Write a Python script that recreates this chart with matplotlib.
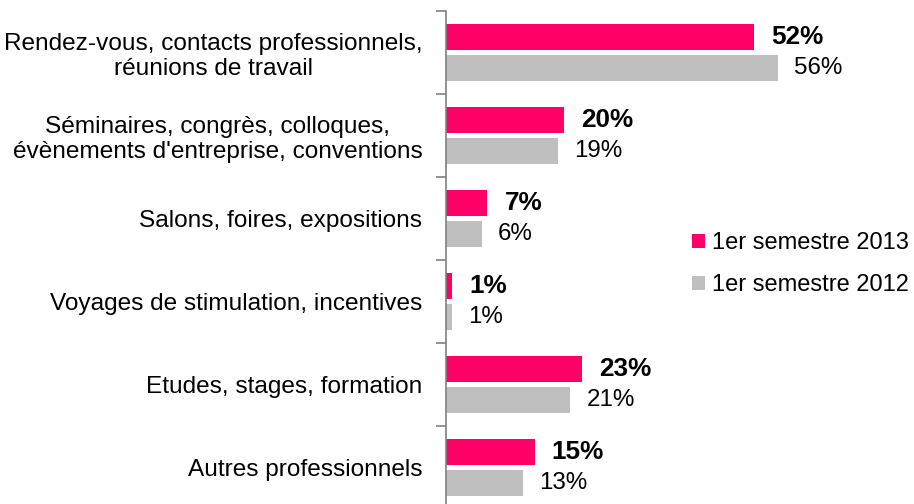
import matplotlib
matplotlib.use('Agg')
from matplotlib import pyplot as plt
import numpy as np

plt.rcParams['font.family'] = ['Liberation Sans', 'DejaVu Sans']

categories = ['Rendez-vous, contacts professionnels,\nréunions de travail',
              'Séminaires, congrès, colloques,\névènements d\'entreprise, conventions',
              'Salons, foires, expositions',
              'Voyages de stimulation, incentives',
              'Etudes, stages, formation',
              'Autres professionnels']
s2013 = [52, 20, 7, 1, 23, 15]
s2012 = [56, 19, 6, 1, 21, 13]
labels_2013 = ['52%', '20%', '7%', '1%', '23%', '15%']
labels_2012 = ['56%', '19%', '6%', '1%', '21%', '13%']

pink = '#FF0066'
grey = '#BFBFBF'

W, H = 914, 504
fig = plt.figure(figsize=(W / 100, H / 100), dpi=100)
# axes: x from 446 px, 5.92 px per percent; y band 11..509 px (6 x 83)
ax = fig.add_axes([446 / W, (H - 509) / H, 78 * 5.92 / W, 498 / H])

y = np.arange(len(categories))
off = 15.5 / 83
h = 26 / 83
ax.barh(y - off, s2013, height=h, color=pink, label='1er semestre 2013')
ax.barh(y + off, s2012, height=h, color=grey, label='1er semestre 2012')

ax.set_xlim(0, 78)
ax.set_ylim(len(categories) - 0.5, -0.5)

for i in range(len(categories)):
    ax.annotate(labels_2013[i], (s2013[i], y[i] - off), xytext=(17, 0),
                textcoords='offset pixels', va='center', ha='left',
                fontsize=18.8, fontweight='bold')
    ax.annotate(labels_2012[i], (s2012[i], y[i] + off), xytext=(16, 0),
                textcoords='offset pixels', va='center', ha='left',
                fontsize=17.4)

ax.set_yticks(y)
ax.set_yticklabels(categories, fontsize=17.6, multialignment='center')
ax.set_yticks(np.arange(-0.5, len(categories), 1), minor=True)
ax.tick_params(axis='y', which='major', length=0, pad=17)
ax.tick_params(axis='y', which='minor', length=7, width=1.2, color='#808080')
ax.set_xticks([])
for s in ['top', 'right', 'bottom']:
    ax.spines[s].set_visible(False)
ax.spines['left'].set_color('#808080')
ax.spines['left'].set_linewidth(1.2)

ax.legend(loc='center left', bbox_to_anchor=(692 / W, 1 - 264 / H),
          bbox_transform=fig.transFigure, frameon=False, fontsize=17,
          borderpad=0, borderaxespad=0,
          handlelength=0.55, handleheight=0.55, handletextpad=0.3,
          labelspacing=0.85)

fig.savefig('out.png', dpi=100)
